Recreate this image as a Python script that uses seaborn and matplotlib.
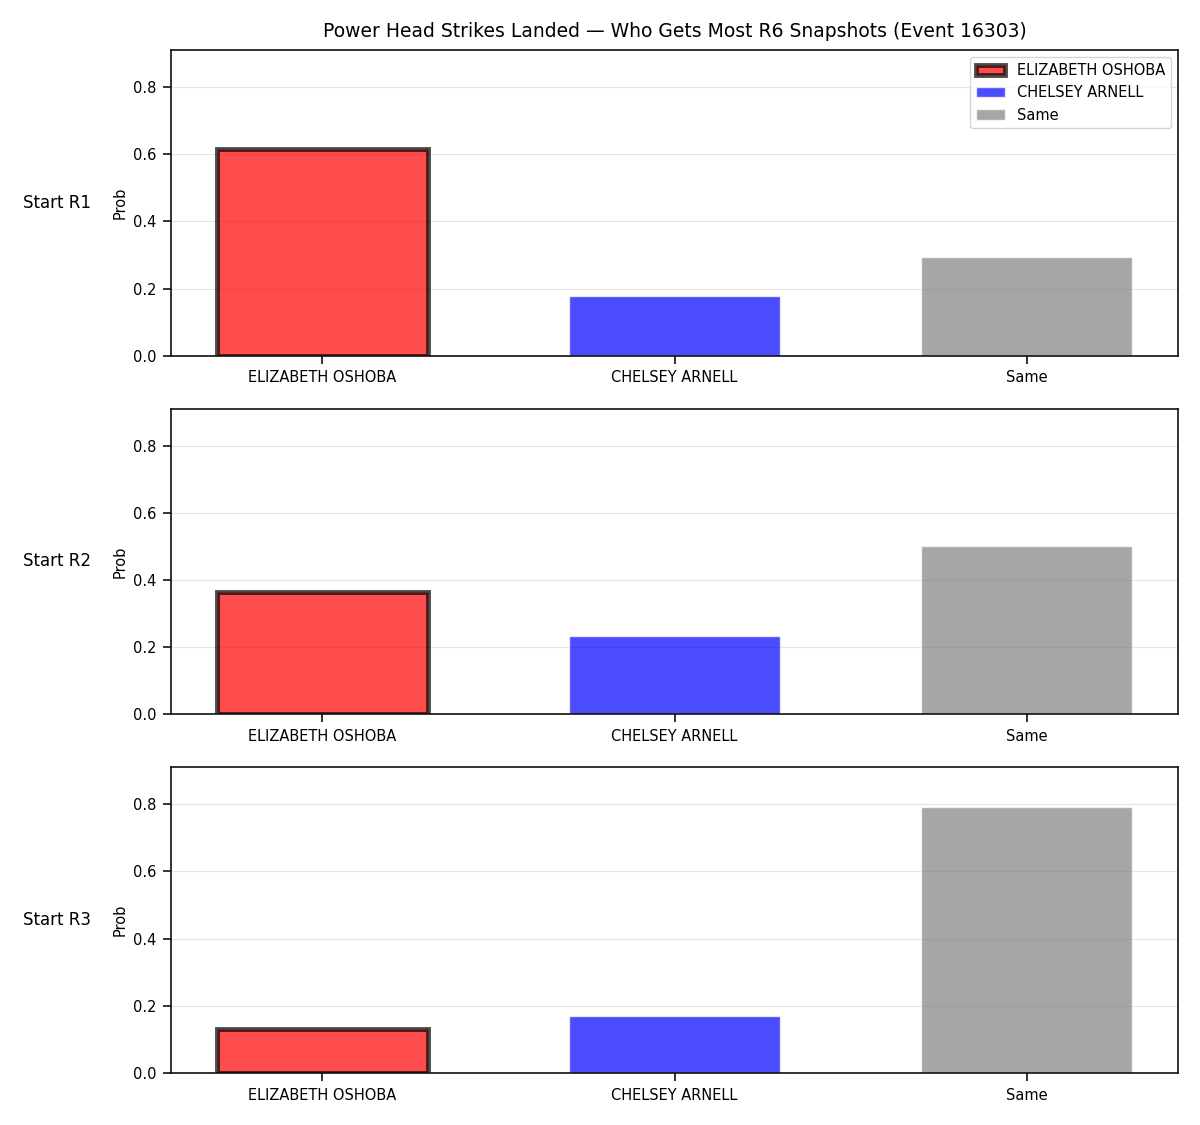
import matplotlib
matplotlib.use("Agg")
import matplotlib.pyplot as plt
import seaborn as sns
import pandas as pd

categories = ["ELIZABETH OSHOBA", "CHELSEY ARNELL", "Same"]
row_labels = ["Start R1", "Start R2", "Start R3"]
probs_r1 = [0.615, 0.178, 0.294]
probs_r2 = [0.363, 0.233, 0.500]
probs_r3 = [0.131, 0.171, 0.792]
colors = ["red", "blue", "gray"]
title = "Power Head Strikes Landed \u2014 Who Gets Most R6 Snapshots (Event 16303)"

sns.set_theme(style="ticks")
plt.rcParams.update({
    "font.family": ["DejaVu Sans"],
    "axes.edgecolor": "#111111",
    "axes.linewidth": 1.2,
    "xtick.color": "#111111",
    "ytick.color": "#111111",
    "xtick.labelcolor": "black",
    "ytick.labelcolor": "black",
    "text.color": "black",
    "axes.labelcolor": "black",
})

fig, axes = plt.subplots(3, 1, figsize=(12, 11.25), dpi=100)
fig.subplots_adjust(left=0.1425, right=0.9817, top=0.9556, bottom=0.0462, hspace=0.173)

all_probs = [probs_r1, probs_r2, probs_r3]
for ax, probs, rl in zip(axes, all_probs, row_labels):
    df = pd.DataFrame({"cat": categories, "prob": probs})
    sns.barplot(data=df, x="cat", y="prob", hue="cat", palette=colors,
                alpha=0.7, width=0.6, ax=ax, legend=False, saturation=1)
    for i, p in enumerate(ax.patches):
        if i == 0:
            p.set_edgecolor((0, 0, 0, 0.7))
            p.set_linewidth(3.5)
        else:
            p.set_edgecolor((1, 1, 1, 0.7))
            p.set_linewidth(1)
    ax.set_xlim(-0.43, 2.43)
    ax.set_ylim(0, 0.91)
    ax.set_yticks([0.0, 0.2, 0.4, 0.6, 0.8])
    ax.yaxis.grid(True, color="#dddddd", linewidth=0.8, alpha=0.8)
    ax.set_axisbelow(True)
    ax.set_xlabel("")
    ax.set_ylabel("Prob", fontsize=10.5)
    ax.tick_params(axis="both", length=6, width=1.2, labelsize=10.5, pad=4.5)
    ax.text(-0.147, 0.5, rl, transform=ax.transAxes, ha="left", va="center", fontsize=12)
    for s in ax.spines.values():
        s.set_visible(True)

axes[0].set_title(title, fontsize=13.5, pad=9)
axes[0].legend(handles=list(axes[0].patches), labels=categories, loc="upper right",
               fontsize=10.5, frameon=True)

fig.savefig("out.png", dpi=100)
